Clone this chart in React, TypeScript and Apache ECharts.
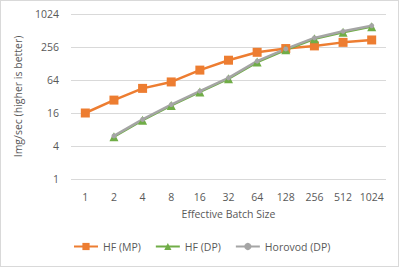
import React, { useEffect, useRef } from "react";
import * as echarts from "echarts";

const categories = ["1", "2", "4", "8", "16", "32", "64", "128", "256", "512", "1024"];
const hfMP = [16, 27.5, 45, 59, 97, 147, 205, 240, 268, 311, 344];
const hfDP = [null, 5.9, 11.8, 22, 38.7, 67.6, 136, 228, 362, 477, 602];
const horovodDP = [null, 6.1, 12.2, 22.8, 40, 70, 141, 236, 375, 495, 625];
const yTicks = [1, 4, 16, 64, 256, 1024];

const FONT = "'Open Sans', 'Noto Sans', sans-serif";
const TXT = "#595959";

export default function App() {
  const ref = useRef<HTMLDivElement>(null);
  useEffect(() => {
    const chart = echarts.init(ref.current!, undefined, { renderer: "svg" });
    chart.setOption({
      animation: false,
      textStyle: { fontFamily: FONT, color: TXT },
      grid: { left: 71, right: 13, top: 14, bottom: 88, containLabel: false },
      legend: {
        bottom: 10,
        left: 68,
        itemWidth: 24,
        itemHeight: 9,
        itemGap: 14,
        textStyle: { fontFamily: FONT, fontSize: 10.5, color: TXT },
        data: ["HF (MP)", "HF (DP)", "Horovod (DP)"],
      },
      xAxis: {
        type: "category",
        data: categories,
        boundaryGap: true,
        name: "Effective Batch Size",
        nameLocation: "middle",
        nameGap: 29,
        nameTextStyle: { fontFamily: FONT, fontSize: 10.5, color: TXT },
        axisLine: { show: false },
        axisTick: { show: false },
        axisLabel: { interval: 0, fontFamily: FONT, fontSize: 10.5, color: TXT, margin: 12 },
      },
      yAxis: {
        type: "log",
        logBase: 4,
        min: yTicks[0],
        max: yTicks[yTicks.length - 1],
        splitNumber: 5,
        name: "Img/sec (higher is better)",
        nameLocation: "middle",
        nameGap: 48,
        nameTextStyle: { fontFamily: FONT, fontSize: 10.5, color: TXT },
        axisLine: { show: false },
        axisTick: { show: false },
        axisLabel: {
          fontFamily: FONT,
          fontSize: 10.5,
          color: TXT,
          margin: 12,
          formatter: (v: number) => String(Math.round(v)),
        },
        splitLine: { lineStyle: { color: "#d9d9d9", width: 1 } },
      },
      series: [
        {
          name: "HF (MP)",
          type: "line",
          data: hfMP,
          symbol: "rect",
          symbolSize: 9,
          itemStyle: { color: "#ED7D31" },
          lineStyle: { color: "#ED7D31", width: 2.5 },
        },
        {
          name: "HF (DP)",
          type: "line",
          data: hfDP,
          symbol: "triangle",
          symbolSize: 9,
          itemStyle: { color: "#70AD47" },
          lineStyle: { color: "#70AD47", width: 2.5 },
        },
        {
          name: "Horovod (DP)",
          type: "line",
          data: horovodDP,
          symbol: "circle",
          symbolSize: 5,
          itemStyle: { color: "#A5A5A5" },
          lineStyle: { color: "#A5A5A5", width: 2.5 },
        },
      ],
    });
    return () => chart.dispose();
  }, []);
  return (
    <div
      style={{
        position: "fixed",
        left: 0,
        top: 0,
        width: 399,
        height: 267,
        boxSizing: "border-box",
        border: "1px solid #d9d9d9",
        background: "#fff",
      }}
    >
      <div ref={ref} style={{ position: "absolute", left: -1, top: -1, width: 399, height: 267 }} />
    </div>
  );
}
